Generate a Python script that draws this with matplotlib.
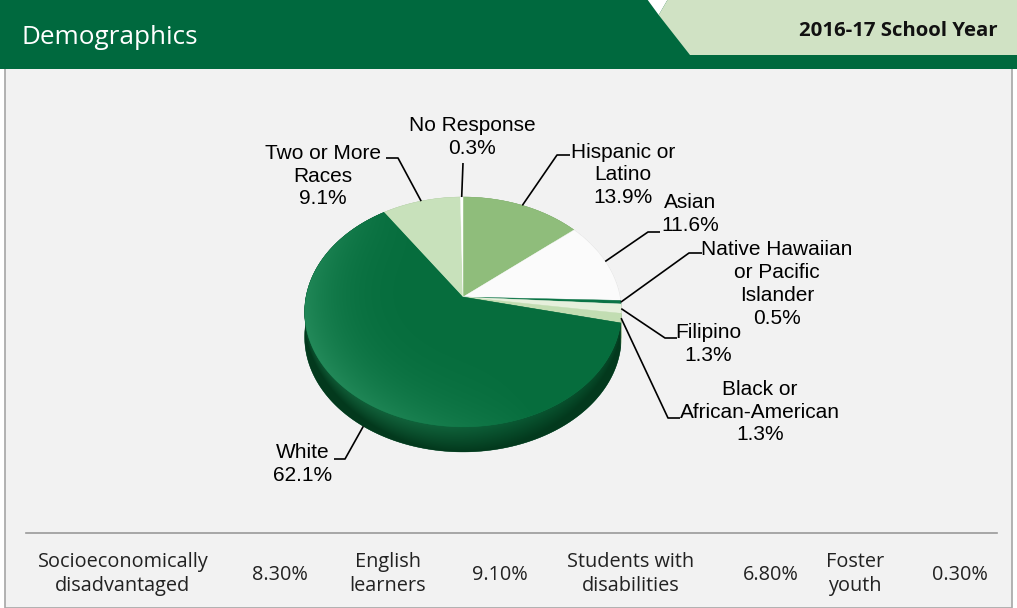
import numpy as np
import matplotlib
matplotlib.use("Agg")
import matplotlib.pyplot as plt
from matplotlib.patches import Polygon, Rectangle
from matplotlib.colors import to_rgb

# ---------------- data ----------------
categories = ["Hispanic or Latino", "Asian", "Native Hawaiian or Pacific Islander",
              "Filipino", "Black or African-American", "White",
              "Two or More Races", "No Response"]
values = [13.9, 11.6, 0.5, 1.3, 1.3, 62.1, 9.1, 0.3]
pie_labels = ["Hispanic or\nLatino\n13.9%", "Asian\n11.6%",
              "Native Hawaiian\nor Pacific\nIslander\n0.5%", "Filipino\n1.3%",
              "Black or\nAfrican-American\n1.3%", "White\n62.1%",
              "Two or More\nRaces\n9.1%", "No Response\n0.3%"]

stat_names = ["Socioeconomically\ndisadvantaged", "English\nlearners",
              "Students with\ndisabilities", "Foster\nyouth"]
stat_values = ["8.30%", "9.10%", "6.80%", "0.30%"]

title = "Demographics"
year_label = "2016-17 School Year"

# ---------------- styles ----------------
top_colors = ["#8fbd7b", "#fbfbfb", "#0b7446", "#e6f0dc", "#c2ddb2",
              "#066d3d", "#c8e1bb", "#ffffff"]
side_colors = ["#6a9a58", "#c8c8c8", "#05522f", "#b9c9ad", "#98b98a",
               "#074a29", "#9dbb90", "#d0d0d0"]
UI_FONT = "Open Sans"

W, H = 1017, 608
fig = plt.figure(figsize=(W / 100, H / 100), dpi=100)
ax = fig.add_axes([0, 0, 1, 1])
ax.set_xlim(0, W)
ax.set_ylim(H, 0)
ax.axis("off")

# ---------------- header / panel ----------------
GREEN = "#00693e"
ax.add_patch(Rectangle((0, 0), W, H, facecolor="white", edgecolor="none", zorder=0))
ax.add_patch(Rectangle((5, 68), W - 10, H - 68, facecolor="#f2f2f2",
                       edgecolor="#a6a6a6", lw=1.2, zorder=0.5))
ax.add_patch(Rectangle((0, 0), W, 69, facecolor=GREEN, edgecolor="none", zorder=1))
ax.add_patch(Polygon([(647, -1), (668, -1), (658.7, 15)], closed=True,
                     facecolor="white", edgecolor="none", zorder=1.2))
ax.add_patch(Polygon([(658.7, 15), (668, -1), (W + 1, -1), (W + 1, 55), (690, 55)],
                     closed=True, facecolor="#d0e2c4", edgecolor="none", zorder=1.2))
ax.text(21, 38, title, color="white", fontsize=18.8, family=UI_FONT,
        va="center", ha="left", zorder=2)
ax.text(998, 31, year_label, color="#111111", fontsize=14.7, family=UI_FONT,
        fontweight="bold", va="center", ha="right", zorder=2)

# separator line and stats row
ax.plot([26, 997], [533, 533], color="#9a9a9a", lw=1.2, zorder=1)
stat_name_x = [123, 388, 631, 855]
stat_val_x = [280, 500, 771, 960]
for nm, vl, xn, xv in zip(stat_names, stat_values, stat_name_x, stat_val_x):
    ax.text(xn, 574, nm, ha="center", va="center", fontsize=14.3, family=UI_FONT,
            color="#222222", linespacing=1.25, zorder=2)
    ax.text(xv, 575, vl, ha="center", va="center", fontsize=14.3, family=UI_FONT,
            color="#222222", zorder=2)

# ---------------- 3D-looking pie ----------------
cx, cy = 463.0, 297.0
R, S, k = 157.0, 113.0, 0.1304
D = 25.0


def proj(u, v):
    d = 1 + k * v
    return cx + R * u / d, cy - S * v / d


fr = np.array(values) / np.sum(values)
starts = 90 - 360 * np.concatenate([[0], np.cumsum(fr)[:-1]])
ends = 90 - 360 * np.cumsum(fr)


def arc(t1, t2, n=None):
    if n is None:
        n = max(4, int(abs(t1 - t2) * 2))
    t = np.radians(np.linspace(t1, t2, n))
    return np.array([proj(np.cos(a), np.sin(a)) for a in t])


# side strips, back to front
order = np.argsort([-np.sin(np.radians((s + e) / 2)) for s, e in zip(starts, ends)])
side_patches = {}
for i in order:
    pts = arc(starts[i], ends[i])
    low = pts + np.array([0, D])
    poly = np.vstack([pts, low[::-1]])
    p = Polygon(poly, closed=True, facecolor=side_colors[i],
                edgecolor=side_colors[i], lw=0.3, zorder=3)
    ax.add_patch(p)
    side_patches[i] = p

# top faces
top_patches = {}
for i in range(len(values)):
    pts = arc(starts[i], ends[i])
    poly = np.vstack([[proj(0, 0)], pts])
    p = Polygon(poly, closed=True, facecolor=top_colors[i],
                edgecolor=top_colors[i], lw=0.3, zorder=4)
    ax.add_patch(p)
    top_patches[i] = p

# soft lighting on the large slice (top face and side)
iw = categories.index("White")
xs = np.linspace(295, 635, 340)
ys = np.linspace(190, 460, 270)
X, Y = np.meshgrid(xs, ys)
a = (X - cx) / R
b = (cy - Y) / S
v = b / (1 - k * b)
u = a * (1 + k * v)
r = np.clip(np.hypot(u, v), 0, 1)
phi = np.arctan2(v, u)
h = (r ** 4) * np.clip(np.cos(phi - np.radians(205)), 0, 1) * 0.55
base = np.array(to_rgb(top_colors[iw]))
light = np.array(to_rgb("#3aa070"))
img = base[None, None, :] * (1 - h[..., None]) + light[None, None, :] * h[..., None]
im = ax.imshow(img, extent=(xs[0], xs[-1], ys[-1], ys[0]), zorder=4.1,
               interpolation="bilinear", aspect="auto")
im.set_clip_path(top_patches[iw])

# side shading: darker towards the bottom edge, lighter highlight at left front
xs2 = np.linspace(295, 635, 340)
ys2 = np.linspace(290, 460, 170)
X2, Y2 = np.meshgrid(xs2, ys2)
a2 = np.clip((X2 - cx) / (R * 1.01), -1, 1)
rimy = cy + S * np.sqrt(1 - a2 ** 2) / (1 - k * np.sqrt(1 - a2 ** 2))
t = np.clip((Y2 - rimy) / D, 0, 1)
hl = np.clip(np.cos(np.arctan2(-np.sqrt(1 - a2 ** 2), a2) - np.radians(215)), 0, 1) ** 2 * 0.35
c_top = np.array(to_rgb("#0a5a34"))
c_bot = np.array(to_rgb("#03391d"))
c_hl = np.array(to_rgb("#2f8a5c"))
img2 = c_top[None, None, :] * (1 - t[..., None]) + c_bot[None, None, :] * t[..., None]
img2 = img2 * (1 - hl[..., None] * (1 - t[..., None])) + c_hl * (hl[..., None] * (1 - t[..., None]))
im2 = ax.imshow(img2, extent=(xs2[0], xs2[-1], ys2[-1], ys2[0]), zorder=3.1,
                interpolation="bilinear", aspect="auto")
im2.set_clip_path(side_patches[iw])

# ---------------- labels & leader lines ----------------
# layout: (text center x, text center y, knee-start x, knee-end x, knee y)
layout = [
    (623, 175, 570, 557, 155),   # Hispanic
    (690, 214, 660, 648, 232),   # Asian
    (777, 284, 702, 689, 253),   # Native Hawaiian
    (708, 344, 677, 665, 338),   # Filipino
    (760, 412, 680, 668, 418),   # Black
    (303, 464, 334, 345, 459),   # White
    (323, 176, 386, 398, 158),   # Two or More
    (472, 137, 463, 463, 163),   # No Response
]
for i, (tx, ty, k1, k2, ky) in enumerate(layout):
    mid = np.radians((starts[i] + ends[i]) / 2)
    axp, ayp = proj(np.cos(mid), np.sin(mid))
    if np.sin(mid) < -0.5:
        ayp += D
    ax.plot([k1, k2, axp], [ky, ky, ayp], color="black", lw=1.2, zorder=5,
            solid_capstyle="butt")
    ax.text(tx, ty, pie_labels[i], ha="center", va="center", fontsize=15,
            family="Liberation Sans", color="black", linespacing=1.25, zorder=6)

fig.savefig("out.png", dpi=100)
